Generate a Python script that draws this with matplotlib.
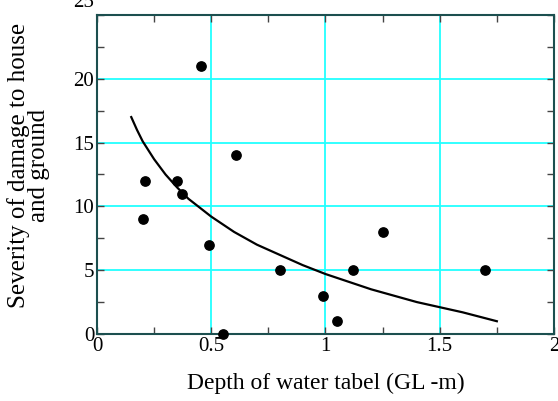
import numpy as np
import matplotlib
matplotlib.use("Agg")
import matplotlib.pyplot as plt
import matplotlib.transforms as mtransforms
from matplotlib.ticker import MultipleLocator

plt.rcParams['font.family'] = ['Liberation Serif', 'DejaVu Serif']

# observed points
depth = [0.2, 0.21, 0.35, 0.37, 0.455, 0.49, 0.55, 0.61, 0.8, 0.99, 1.05, 1.12, 1.25, 1.7]
severity = [9, 12, 12, 11, 21, 7, 0, 14, 5, 3, 1, 5, 8, 5]

# trend curve
curve_x = [0.15, 0.175, 0.2, 0.225, 0.25, 0.275, 0.3, 0.35, 0.4, 0.45, 0.5,
           0.6, 0.7, 0.8, 0.9, 1.0, 1.1, 1.2, 1.3, 1.4, 1.5, 1.6, 1.75]
curve_y = [17.0, 16.0, 15.1, 14.4, 13.7, 13.1, 12.5, 11.5, 10.6, 9.9, 9.2,
           8.0, 7.0, 6.2, 5.4, 4.7, 4.1, 3.5, 3.0, 2.5, 2.1, 1.7, 1.0]

frame_col = '#1c4f4f'

fig = plt.figure(figsize=(5.58, 4.01), dpi=100)
ax = fig.add_axes([0.1738, 0.1671, 0.819, 0.7955])

ax.set_xlim(0, 2)
ax.set_ylim(0, 25)

for gx in [0.5, 1.0, 1.5]:
    ax.axvline(gx, color='#22ffff', lw=1.3, zorder=1)
for gy in [5, 10, 15, 20]:
    ax.axhline(gy, color='#22ffff', lw=1.3, zorder=1)

ax.plot(curve_x, curve_y, color='black', lw=1.6, zorder=3)
ax.scatter(depth, severity, s=45, color='black', zorder=4, clip_on=False)

ax.xaxis.set_minor_locator(MultipleLocator(0.25))
ax.yaxis.set_minor_locator(MultipleLocator(2.5))
ax.set_xticks([0, 0.5, 1, 1.5, 2])
ax.set_xticklabels(['0', '0.5', '1', '1.5', '2'])
ax.set_yticks([0, 5, 10, 15, 20, 25])
ax.set_yticklabels(['0', '5', '10', '15', '20', '25'])

ax.tick_params(which='both', direction='in', top=True, right=True,
               length=5, width=1, color='#444444', labelsize=15, pad=2)

# top label sits higher and gets cut off in the original
lab25 = ax.get_yticklabels()[-1]
lab25.set_transform(lab25.get_transform() +
                    mtransforms.ScaledTranslation(0, 15 / 100, fig.dpi_scale_trans))

for sp in ax.spines.values():
    sp.set_color(frame_col)
    sp.set_linewidth(1.5)

ax.set_xlabel('Depth of water tabel (GL -m)', fontsize=17, labelpad=12)
ax.set_ylabel('Severity of damage to house\nand ground', fontsize=18,
              linespacing=0.9)
ax.yaxis.set_label_coords(-0.102, 0.527)

fig.savefig('out.png', dpi=100)
